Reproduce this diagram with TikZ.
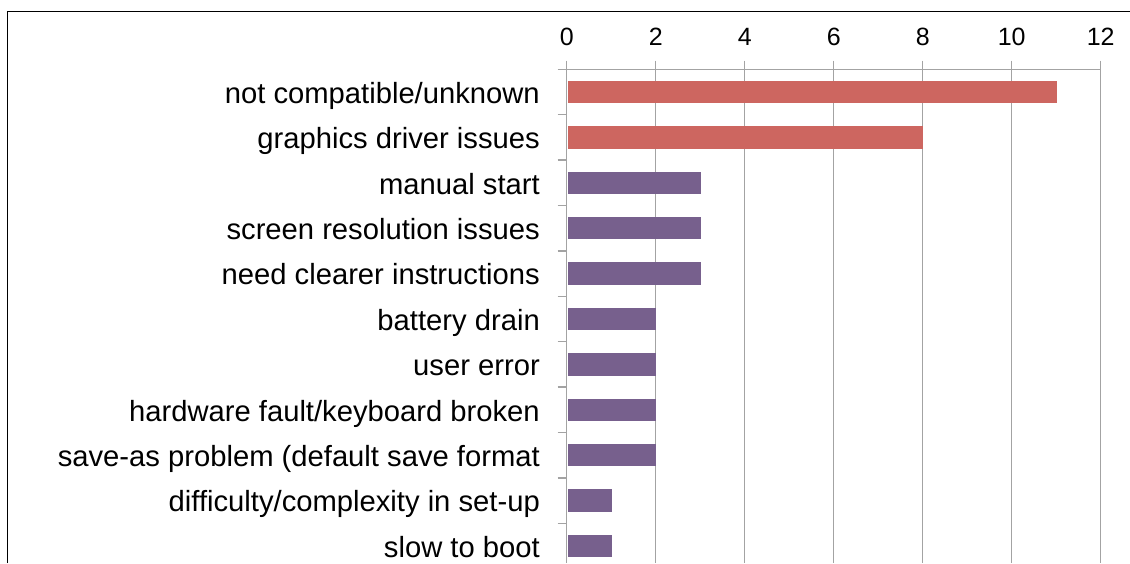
\documentclass[tikz,border=0pt]{standalone}
\usepackage{fontspec}
\setmainfont{Liberation Sans}
\definecolor{barred}{RGB}{205,102,96}
\definecolor{barpurple}{RGB}{119,96,141}
\definecolor{gridgray}{RGB}{163,163,163}
\tikzstyle{catname} = [anchor=base east, inner sep=0pt, font=\fontsize{29.2}{32}\selectfont]
\tikzstyle{tickval} = [anchor=base, inner sep=0pt, font=\fontsize{25}{28}\selectfont]
\tikzstyle{bar} = [rectangle, anchor=west, inner sep=0pt, minimum height=22.4pt]
\tikzstyle{redbar} = [bar, fill=barred]
\tikzstyle{purplebar} = [bar, fill=barpurple]
\tikzset{
  gridline/.style ={draw, gridgray, line width=1.5pt}
}
\begin{document}
\begin{tikzpicture}[x=1pt, y=-1pt]
   \useasboundingbox (0,0) rectangle (1130,563);
   \draw [line width=1.3pt] (7.3,563) -- (7.3,11.7) -- (1130,11.7);
   % grid and axis
   \path [gridline] (655.7,60.7) -- (655.7,563);
   \path [gridline] (744.7,60.7) -- (744.7,563);
   \path [gridline] (833.7,60.7) -- (833.7,563);
   \path [gridline] (922.7,60.7) -- (922.7,563);
   \path [gridline] (1011.7,60.7) -- (1011.7,563);
   \path [gridline] (1100.7,60.7) -- (1100.7,563);
   \path [gridline] (557.7,69.3) -- (1100.7,69.3);
   \path [gridline] (557.7,114.7) -- (566.7,114.7);
   \path [gridline] (557.7,160.1) -- (566.7,160.1);
   \path [gridline] (557.7,205.5) -- (566.7,205.5);
   \path [gridline] (557.7,250.9) -- (566.7,250.9);
   \path [gridline] (557.7,296.3) -- (566.7,296.3);
   \path [gridline] (557.7,341.7) -- (566.7,341.7);
   \path [gridline] (557.7,387.1) -- (566.7,387.1);
   \path [gridline] (557.7,432.5) -- (566.7,432.5);
   \path [gridline] (557.7,477.9) -- (566.7,477.9);
   \path [gridline] (557.7,523.3) -- (566.7,523.3);
   \path [gridline] (566.7,60.7) -- (566.7,563);
   % tick values
   \node [tickval] (t0) at (566.7,45.7) {0};
   \node [tickval] (t2) at (655.7,45.7) {2};
   \node [tickval] (t4) at (744.7,45.7) {4};
   \node [tickval] (t6) at (833.7,45.7) {6};
   \node [tickval] (t8) at (922.7,45.7) {8};
   \node [tickval] (t10) at (1011.7,45.7) {10};
   \node [tickval] (t12) at (1100.7,45.7) {12};
   % categories
   \node [catname] (not_compatible) at (540,103.3) {not compatible/unknown};
   \node [catname] (graphics_driver) at (540,148.7) {graphics driver issues};
   \node [catname] (manual_start) at (540,194.1) {manual start};
   \node [catname] (screen_res) at (540,239.5) {screen resolution issues};
   \node [catname] (instructions) at (540,284.9) {need clearer instructions};
   \node [catname] (battery) at (540,330.3) {battery drain};
   \node [catname] (user_error) at (540,375.7) {user error};
   \node [catname] (hardware) at (540,421.1) {hardware fault/keyboard broken};
   \node [catname] (save_as) at (540,466.5) {save-as problem (default save format};
   \node [catname] (setup) at (540,511.9) {difficulty/complexity in set-up};
   \node [catname] (slow_boot) at (540,557.3) {slow to boot};
   % bars
   \node [redbar, minimum width=489pt] (bar_not_compatible) at (567.5,92.0) {};
   \node [redbar, minimum width=355.5pt] (bar_graphics_driver) at (567.5,137.4) {};
   \node [purplebar, minimum width=133pt] (bar_manual_start) at (567.5,182.8) {};
   \node [purplebar, minimum width=133pt] (bar_screen_res) at (567.5,228.2) {};
   \node [purplebar, minimum width=133pt] (bar_instructions) at (567.5,273.6) {};
   \node [purplebar, minimum width=88.5pt] (bar_battery) at (567.5,319.0) {};
   \node [purplebar, minimum width=88.5pt] (bar_user_error) at (567.5,364.4) {};
   \node [purplebar, minimum width=88.5pt] (bar_hardware) at (567.5,409.8) {};
   \node [purplebar, minimum width=88.5pt] (bar_save_as) at (567.5,455.2) {};
   \node [purplebar, minimum width=44pt] (bar_setup) at (567.5,500.6) {};
   \node [purplebar, minimum width=44pt] (bar_slow_boot) at (567.5,546.0) {};
\end{tikzpicture}
\end{document}
